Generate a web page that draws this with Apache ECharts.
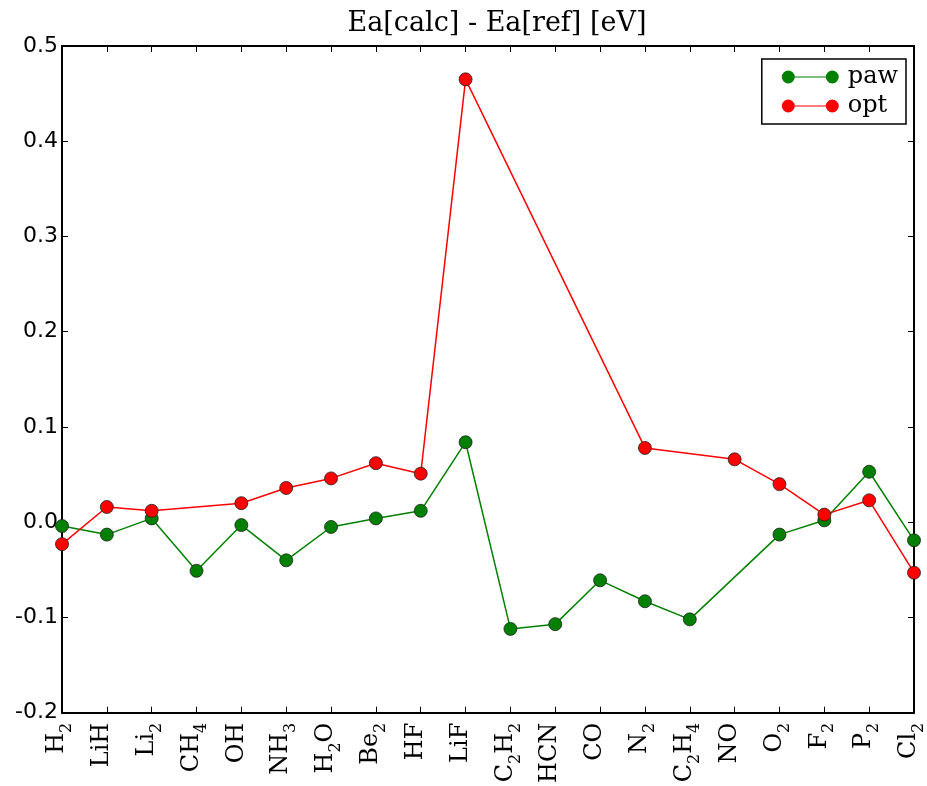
<!DOCTYPE html>
<html>
<head>
<meta charset="utf-8">
<script src="https://cdn.jsdelivr.net/npm/echarts@6/dist/echarts.min.js"></script>
<style>
  html, body {margin:0; padding:0; background:#fff;}
  #main {width:927px; height:786px;}
</style>
</head>
<body>
<div id="main"></div>
<script>
// molecules along x (digits are drawn as subscripts)
let molecules = ['H2','LiH','Li2','CH4','OH','NH3','H2O','Be2','HF','LiF','C2H2','HCN','CO','N2','C2H4','NO','O2','F2','P2','Cl2'];
// Ea[calc] - Ea[ref] in eV, null where no point is drawn
let paw = [-0.004,-0.013,0.004,-0.051,-0.003,-0.040,-0.005,0.004,0.012,0.084,-0.112,-0.107,-0.061,-0.083,-0.102,null,-0.013,0.002,0.053,-0.019];
let opt = [-0.023,0.016,0.012,null,0.020,0.036,0.046,0.062,0.051,0.465,null,null,null,0.078,null,0.066,0.040,0.008,0.023,-0.053];
let yTicks = {min:-0.2, max:0.5, step:0.1};

let myChart = echarts.init(document.getElementById('main'));

function molLabel(name) {
  return name.replace(/([A-Za-z]+)|(\d+)/g, function (m, letters, digits) {
    return letters ? '{n|' + letters + '}' : '{s|' + digits + '}';
  });
}

// legend icon: marker - line - marker
let legendIcon = 'path://M0,6.5a6.5,6.5 0 1,0 13,0a6.5,6.5 0 1,0 -13,0Z M13,5.9h31v1.2h-31Z M44,6.5a6.5,6.5 0 1,0 13,0a6.5,6.5 0 1,0 -13,0Z';

let axisLine = {show:true, onZero:false, lineStyle:{color:'#000', width:2}};
let tick = {show:true, inside:true, length:6, alignWithLabel:true, lineStyle:{color:'#000', width:1}};

let option = {
  animation: false,
  backgroundColor: '#fff',
  title: {
    text: 'Ea[calc] - Ea[ref] [eV]',
    left: 492,
    textAlign: 'center',
    top: 5,
    textStyle: {fontFamily:'DejaVu Serif', fontWeight:'normal', fontSize:27, color:'#000'}
  },
  legend: {
    data: [
      {name:'paw', icon:legendIcon},
      {name:'opt', icon:legendIcon}
    ],
    orient: 'vertical',
    right: 21,
    top: 59,
    padding: [6, 8, 6, 20],
    itemGap: 5,
    itemWidth: 57,
    itemHeight: 13,
    itemStyle: {borderWidth:0},
    borderColor: '#000',
    borderWidth: 1.5,
    borderRadius: 0,
    backgroundColor: '#fff',
    textStyle: {fontFamily:'DejaVu Serif', fontSize:24, color:'#000', padding:[0,0,0,4]}
  },
  grid: {left:62, right:5, top:46, bottom:72, containLabel:false},
  xAxis: [
    {
      type: 'category',
      data: molecules,
      boundaryGap: false,
      axisLine: axisLine,
      axisTick: tick,
      splitLine: {show:false},
      axisLabel: {
        rotate: 90,
        margin: 10,
        interval: 0,
        color: '#000',
        formatter: molLabel,
        rich: {
          n: {fontFamily:'DejaVu Serif', fontSize:24, color:'#000', verticalAlign:'bottom', lineHeight:26, padding:[0,0,6,0]},
          s: {fontFamily:'DejaVu Serif', fontSize:16, color:'#000', verticalAlign:'bottom', lineHeight:17}
        }
      }
    },
    {
      type: 'category',
      data: molecules,
      boundaryGap: false,
      position: 'top',
      axisLine: axisLine,
      axisTick: tick,
      axisLabel: {show:false},
      splitLine: {show:false}
    }
  ],
  yAxis: [
    {
      type: 'value',
      min: yTicks.min,
      max: yTicks.max,
      interval: yTicks.step,
      axisLine: axisLine,
      axisTick: {show:true, inside:true, length:6, lineStyle:{color:'#000', width:1}},
      splitLine: {show:false},
      axisLabel: {
        color: '#000',
        fontFamily: 'DejaVu Sans',
        fontSize: 22,
        margin: 4,
        formatter: function (v) { return v.toFixed(1); }
      }
    },
    {
      type: 'value',
      min: yTicks.min,
      max: yTicks.max,
      interval: yTicks.step,
      position: 'right',
      axisLine: axisLine,
      axisTick: {show:true, inside:true, length:6, lineStyle:{color:'#000', width:1}},
      splitLine: {show:false},
      axisLabel: {show:false}
    }
  ],
  series: [
    {
      name: 'paw',
      type: 'line',
      data: paw,
      connectNulls: true,
      symbol: 'circle',
      symbolSize: 13,
      showAllSymbol: true,
      clip: true,
      color: '#008000',
      lineStyle: {color:'#008000', width:1.5},
      itemStyle: {color:'#008000', borderColor:'#222', borderWidth:0.8}
    },
    {
      name: 'opt',
      type: 'line',
      data: opt,
      connectNulls: true,
      symbol: 'circle',
      symbolSize: 13,
      showAllSymbol: true,
      clip: true,
      color: '#ff0000',
      lineStyle: {color:'#ff0000', width:1.5},
      itemStyle: {color:'#ff0000', borderColor:'#222', borderWidth:0.8}
    }
  ]
};

myChart.setOption(option);
window.onresize = myChart.resize;
</script>
</body>
</html>
